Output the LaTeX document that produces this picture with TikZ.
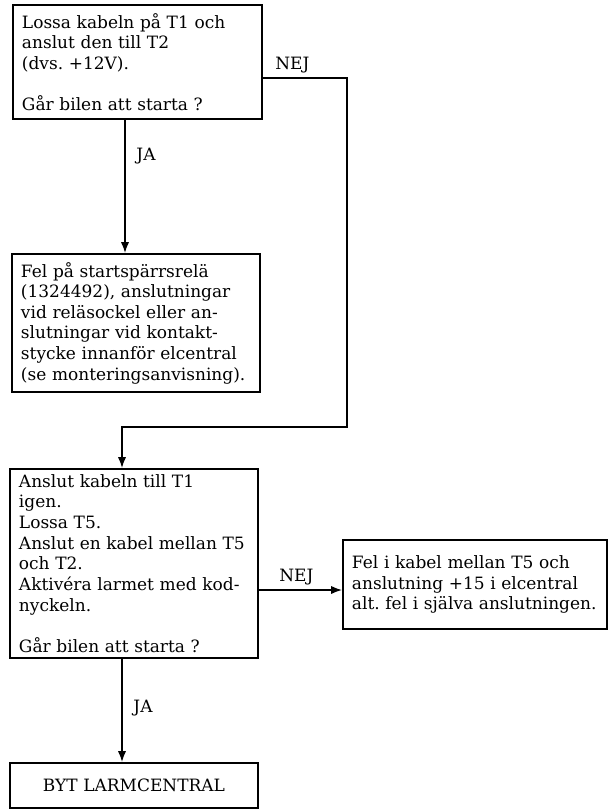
\documentclass[tikz,border=0pt]{standalone}
\usepackage{fontspec}
\setmainfont{DejaVu Serif}
\usetikzlibrary{shapes,arrows.meta,positioning,calc}

\begin{document}
\begin{tikzpicture}[x=0.03cm, y=-0.03cm,
    box/.style={rectangle, draw, line width=1.5pt, align=left, inner xsep=0.27cm, inner ysep=0.1cm, font=\fontsize{14.5}{17.6}\selectfont},
    flow/.style={-{Latex[length=0.33cm,width=0.25cm]}, line width=1.5pt},
    lbl/.style={font=\fontsize{14.5}{17.6}\selectfont}
]
    \useasboundingbox (0,0) rectangle (609,809);

    \node[box, text width=6.93cm, minimum height=3.42cm] (test1) at (137.5,62)
        {Lossa kabeln på T1 och\\anslut den till T2\\(dvs.\ +12V).\\[\baselineskip]Går bilen att starta ?};
    \node[box, text width=6.90cm, minimum height=4.14cm] (relay) at (136,323)
        {Fel på startspärrsrelä\\(1324492), anslutningar\\vid reläsockel eller an-\\slutningar vid kontakt-\\stycke innanför elcentral\\(se monteringsanvisning).};
    \node[box, text width=6.90cm, minimum height=5.67cm] (test2) at (134,563.5)
        {Anslut kabeln till T1\\igen.\\Lossa T5.\\Anslut en kabel mellan T5\\och T2.\\Aktivéra larmet med kod-\\nyckeln.\\[\baselineskip]Går bilen att starta ?};
    \node[box, text width=7.38cm, minimum height=2.67cm] (cable) at (475,584.5)
        {Fel i kabel mellan T5 och\\anslutning +15 i elcentral\\alt.\ fel i själva anslutningen.};
    \node[box, text width=6.90cm, minimum height=1.35cm, align=center] (replace) at (134,785.5)
        {BYT LARMCENTRAL};

    \coordinate (c1) at (125,0);
    \coordinate (n1) at (347,78);
    \coordinate (n2) at (347,427);
    \coordinate (n3) at (122,427);
    \coordinate (c3) at (0,590);

    \draw[flow] (test1.south -| c1) -- node[lbl, right=0.2cm, pos=0.27] {JA} (relay.north -| c1);
    \draw[flow] (test1.east |- n1) -- node[lbl, above, pos=0.35] {NEJ} (n1) -- (n2) -- (n3) -- (test2.north -| n3);
    \draw[flow] (test2.east |- c3) -- node[lbl, above, pos=0.45] {NEJ} (cable.west |- c3);
    \draw[flow] (test2.south -| n3) -- node[lbl, right=0.2cm, pos=0.48] {JA} (replace.north -| n3);
\end{tikzpicture}
\end{document}
